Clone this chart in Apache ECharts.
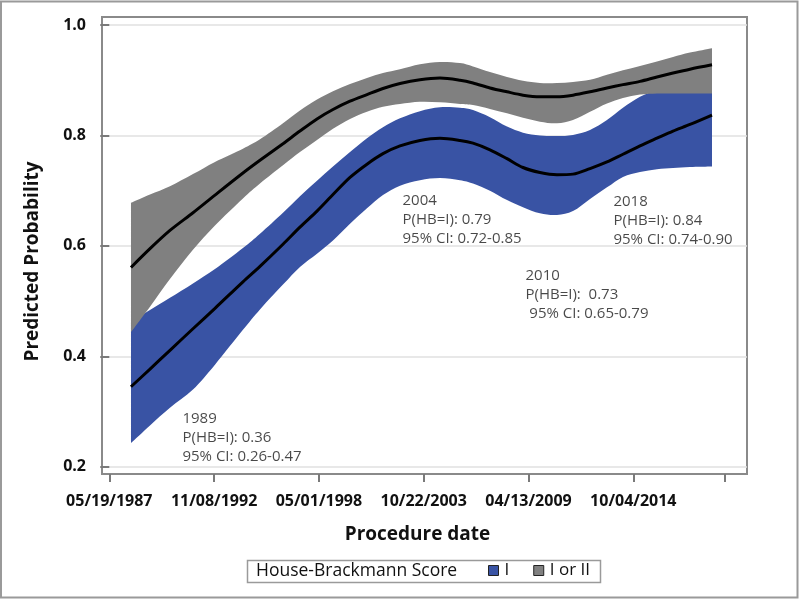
<!DOCTYPE html>
<html>
<head>
<meta charset="utf-8">
<script src="https://cdn.jsdelivr.net/npm/echarts@6/dist/echarts.min.js"></script>
<style>
html,body{margin:0;padding:0;background:#fff;}
#c{width:800px;height:600px;}
</style>
</head>
<body>
<div id="c"></div>
<script>
// Days since 05/19/1987
const xDays = [414, 777, 1158, 1597, 2017, 2551, 2876, 3315, 3639, 3964, 4269, 4594, 4918, 5223, 5548, 5929, 6311, 6693, 6941, 7265, 7590, 7895, 8219, 8544, 8849, 9174, 9498, 9803, 10128, 10452, 10758, 11082, 11502];

// House-Brackmann I
const blueMid   = [0.345,0.377,0.411,0.450,0.487,0.535,0.563,0.603,0.634,0.663,0.693,0.724,0.748,0.767,0.781,0.791,0.795,0.791,0.786,0.774,0.758,0.742,0.733,0.729,0.730,0.740,0.752,0.766,0.781,0.795,0.808,0.820,0.837];
const blueUpper = [0.462,0.484,0.506,0.532,0.558,0.596,0.622,0.660,0.690,0.718,0.744,0.770,0.795,0.815,0.831,0.844,0.851,0.850,0.846,0.833,0.816,0.805,0.800,0.799,0.801,0.810,0.828,0.850,0.870,0.882,0.889,0.895,0.900];
const blueLower = [0.243,0.275,0.307,0.340,0.385,0.448,0.485,0.530,0.562,0.586,0.610,0.640,0.668,0.692,0.709,0.719,0.723,0.719,0.713,0.700,0.683,0.670,0.659,0.656,0.663,0.685,0.706,0.725,0.734,0.739,0.741,0.743,0.744];

// House-Brackmann I or II
const grayMid   = [0.561,0.595,0.628,0.660,0.692,0.732,0.755,0.785,0.808,0.830,0.847,0.862,0.874,0.885,0.894,0.901,0.904,0.900,0.895,0.886,0.879,0.873,0.870,0.870,0.873,0.879,0.886,0.892,0.898,0.906,0.913,0.920,0.928];
const grayUpper = [0.678,0.693,0.708,0.730,0.752,0.776,0.793,0.822,0.845,0.865,0.880,0.893,0.904,0.913,0.920,0.929,0.933,0.931,0.925,0.915,0.906,0.899,0.895,0.895,0.897,0.901,0.910,0.918,0.926,0.934,0.942,0.950,0.958];
const grayLower = [0.444,0.490,0.540,0.593,0.637,0.686,0.713,0.746,0.770,0.792,0.812,0.830,0.843,0.852,0.857,0.861,0.860,0.857,0.855,0.848,0.840,0.832,0.825,0.822,0.828,0.843,0.858,0.868,0.874,0.876,0.876,0.876,0.876];

const xTickDays = [0, 2000, 4000, 6000, 8000, 10000, 11750];
const xLabelDays = [0, 2000, 4000, 6000, 8000, 10000];
const xTickLabels = ['05/19/1987', '11/08/1992', '05/01/1998', '10/22/2003', '04/13/2009', '10/04/2014'];
const yTicks = [0.2, 0.4, 0.6, 0.8, 1.0];

const annX = [1406, 5605, 7952, 9631];
const annY = [0.303, 0.699, 0.563, 0.697];
const annText = [
  '1989\nP(HB=I): 0.36\n95% CI: 0.26-0.47',
  '2004\nP(HB=I): 0.79\n95% CI: 0.72-0.85',
  '2010\nP(HB=I):  0.73\n 95% CI: 0.65-0.79',
  '2018\nP(HB=I): 0.84\n95% CI: 0.74-0.90'
];

const BLUE = '#3953a4';
const GRAY = '#808080';
const FONT = 'Open Sans';
const W = 800, H = 600;

const pairs = (arr) => xDays.map((d, i) => [d, arr[i]]);

// Catmull-Rom spline through pixel points -> SVG cubic commands
function curveCmds(pts) {
  let s = '';
  const n = pts.length;
  for (let i = 0; i < n - 1; i++) {
    const p0 = pts[Math.max(i - 1, 0)], p1 = pts[i], p2 = pts[i + 1], p3 = pts[Math.min(i + 2, n - 1)];
    const c1x = p1[0] + (p2[0] - p0[0]) / 6, c1y = p1[1] + (p2[1] - p0[1]) / 6;
    const c2x = p2[0] - (p3[0] - p1[0]) / 6, c2y = p2[1] - (p3[1] - p1[1]) / 6;
    s += 'C' + c1x.toFixed(2) + ' ' + c1y.toFixed(2) + ' ' + c2x.toFixed(2) + ' ' + c2y.toFixed(2) + ' ' + p2[0].toFixed(2) + ' ' + p2[1].toFixed(2);
  }
  return s;
}

function bandSeries(name, upper, lower, color, z) {
  return {
    type: 'custom', name: name, coordinateSystem: 'cartesian2d', z: z, silent: true,
    itemStyle: {color: color},
    data: [[xDays[0], lower[0]]],
    encode: {x: 0, y: 1},
    renderItem: function (params, api) {
      const up = xDays.map((d, i) => api.coord([d, upper[i]]));
      const lo = xDays.map((d, i) => api.coord([d, lower[i]])).reverse();
      const d = 'M0 0 M' + W + ' ' + H +
        ' M' + up[0][0].toFixed(2) + ' ' + up[0][1].toFixed(2) + curveCmds(up) +
        'L' + lo[0][0].toFixed(2) + ' ' + lo[0][1].toFixed(2) + curveCmds(lo) + 'Z';
      return {
        type: 'path',
        shape: {pathData: d, x: 0, y: 0, width: W, height: H, layout: 'cover'},
        style: {fill: color, stroke: null}
      };
    }
  };
}

const chart = echarts.init(document.getElementById('c'), null, {renderer: 'canvas'});

chart.setOption({
  animation: false,
  textStyle: {fontFamily: FONT},
  grid: {left: 102, right: 53, top: 17, bottom: 126, show: true, borderColor: '#8a8a8a', borderWidth: 2, backgroundColor: 'transparent'},
  xAxis: {
    type: 'value', min: -139, max: 12170,
    name: 'Procedure date', nameLocation: 'middle', nameGap: 51,
    nameTextStyle: {fontSize: 19, fontWeight: 'bold', color: '#111', fontFamily: FONT, padding: [0, 14, 0, 0]},
    axisLine: {show: false},
    axisTick: {show: true, customValues: xTickDays, length: 8, lineStyle: {color: '#7a7a7a', width: 2}},
    axisLabel: {customValues: xLabelDays, margin: 19, fontSize: 16, fontWeight: 'bold', color: '#111', fontFamily: FONT,
      formatter: (v) => { const i = xLabelDays.indexOf(v); return i >= 0 ? xTickLabels[i] : ''; }},
    splitLine: {show: false}
  },
  yAxis: {
    type: 'value', min: 0.187, max: 1.0145,
    name: 'Predicted Probability', nameLocation: 'middle', nameGap: 60, nameRotate: 90,
    nameTextStyle: {fontSize: 19, fontWeight: 'bold', color: '#111', fontFamily: FONT, padding: [0, 32, 0, 0]},
    axisLine: {show: false},
    axisTick: {show: true, customValues: yTicks, length: 9, lineStyle: {color: '#7a7a7a', width: 2}},
    axisLabel: {customValues: yTicks, margin: 16, fontSize: 16, fontWeight: 'bold', color: '#111', fontFamily: FONT,
      formatter: (v) => v.toFixed(1)},
    splitLine: {show: false}
  },
  legend: {
    left: 488, top: 562, padding: 0, itemWidth: 10, itemHeight: 10, itemGap: 24,
    icon: 'rect', selectedMode: false,
    textStyle: {fontSize: 17, color: '#111', fontFamily: FONT, padding: [0, 0, 0, 1]},
    itemStyle: {borderColor: '#222', borderWidth: 1},
    data: ['I', 'I or II']
  },
  graphic: [
    {type: 'rect', shape: {x: 1, y: 1.5, width: 796.5, height: 596}, style: {fill: 'none', stroke: '#9a9a9a', lineWidth: 2}, silent: true},
    {type: 'rect', shape: {x: 247.5, y: 560.5, width: 353, height: 22}, style: {fill: 'none', stroke: '#9a9a9a', lineWidth: 1.5}, silent: true},
    {type: 'text', x: 256, y: 571.5, style: {text: 'House-Brackmann Score', font: '17.5px "Open Sans"', fill: '#111', textVerticalAlign: 'middle'}, silent: true}
  ],
  series: [
    bandSeries('I', blueUpper, blueLower, BLUE, 2),
    bandSeries('I or II', grayUpper, grayLower, GRAY, 3),
    {
      name: 'I fit', type: 'line', smooth: 0.3, symbol: 'none', z: 4, silent: true,
      data: pairs(blueMid), lineStyle: {color: '#000', width: 3},
      markLine: {silent: true, z: 0, symbol: ['none', 'none'], label: {show: false}, emphasis: {disabled: true},
        lineStyle: {color: '#e0e0e0', width: 1.5, type: 'solid'},
        data: yTicks.map(v => ({yAxis: v}))}
    },
    {
      name: 'I or II fit', type: 'line', smooth: 0.3, symbol: 'none', z: 4, silent: true,
      data: pairs(grayMid), lineStyle: {color: '#000', width: 3}
    },
    {
      name: 'notes', type: 'scatter', z: 5, symbolSize: 1, itemStyle: {color: 'rgba(0,0,0,0)'}, silent: true,
      data: annX.map((x, i) => [x, annY[i], annText[i]]),
      label: {show: true, position: [0, 0], align: 'left', verticalAlign: 'top',
        fontSize: 15, lineHeight: 19, color: '#1a1a1a', fontFamily: FONT,
        formatter: (p) => p.value[2]}
    }
  ]
});
</script>
</body>
</html>
